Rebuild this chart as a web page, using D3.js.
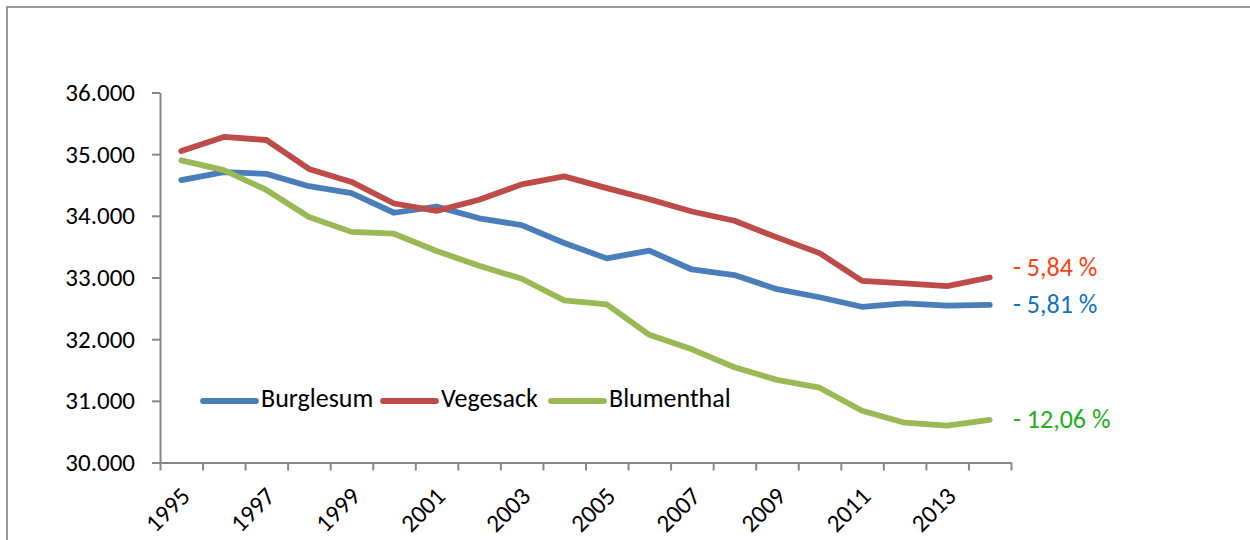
<!DOCTYPE html>
<html>
<head>
<meta charset="utf-8">
<script src="https://cdn.jsdelivr.net/npm/d3@7"></script>
<style>
  body { margin: 0; background: #fff; }
  svg text { font-family: Carlito, Calibri, Lato, sans-serif; }
</style>
</head>
<body>
<div id="container"></div>
<script>
// years and values
const years = d3.range(1995, 2015);
const burglesum = [34580, 34710, 34680, 34480, 34370, 34050, 34150, 33960, 33850, 33560,
                   33310, 33435, 33130, 33040, 32810, 32680, 32525, 32580, 32545, 32555];
const vegesack = [35050, 35280, 35230, 34760, 34550, 34200, 34080, 34260, 34510, 34640,
                  34450, 34270, 34070, 33920, 33650, 33395, 32945, 32905, 32860, 33000];
const blumenthal = [34900, 34740, 34420, 33980, 33740, 33710, 33430, 33190, 32980, 32630,
                    32565, 32070, 31835, 31545, 31340, 31213, 30840, 30645, 30597, 30690];
const yTicks = [30000, 31000, 32000, 33000, 34000, 35000, 36000];
const xLabels = years.filter(y => y % 2 === 1);
const seriesNames = ["Burglesum", "Vegesack", "Blumenthal"];
const changeLabels = ["- 5,81 %", "- 5,84 %", "- 12,06 %"];

const series = [
  { name: seriesNames[0], values: burglesum, color: "#4a7ebb", labelColor: "#0f72c2", label: changeLabels[0], shift: 2 },
  { name: seriesNames[1], values: vegesack, color: "#be4b48", labelColor: "#ff3f10", label: changeLabels[1], shift: -8 },
  { name: seriesNames[2], values: blumenthal, color: "#98b954", labelColor: "#22b022", label: changeLabels[2], shift: 2 }
];

const w = 1250, h = 540;
const plotLeft = 160, plotRight = 1011, plotTop = 92.5, plotBottom = 462.5;
const fontSize = 25;

const svg = d3.select("#container").append("svg")
  .attr("width", w).attr("height", h);

// outer frame
svg.append("rect")
  .attr("x", 7).attr("y", 7)
  .attr("width", 1400).attr("height", 700)
  .attr("fill", "none")
  .attr("stroke", "#9a9a9a")
  .attr("stroke-width", 2);

// scales: category index, points at centers
const x = d3.scaleLinear().domain([0, years.length]).range([plotLeft, plotRight]);
const y = d3.scaleLinear().domain([30000, 36000]).range([plotBottom, plotTop]);

const de = d3.formatLocale({ decimal: ",", thousands: ".", grouping: [3], currency: ["", " €"] });
const fmt = de.format(",.0f");

// y axis
const yAxis = svg.append("g")
  .attr("transform", "translate(" + plotLeft + ",0)")
  .call(d3.axisLeft(y).tickValues(yTicks).tickFormat(fmt).tickSize(8).tickSizeOuter(0).tickPadding(17));
yAxis.selectAll("path, line").attr("stroke", "#868686").attr("stroke-width", 2);
yAxis.selectAll("text").attr("font-size", fontSize).attr("fill", "#000")
  .attr("font-family", "Carlito, Calibri, Lato, sans-serif");

// x axis (ticks at category borders)
const xAxis = svg.append("g")
  .attr("transform", "translate(0," + plotBottom + ")")
  .call(d3.axisBottom(x).tickValues(d3.range(0, years.length + 1)).tickFormat("").tickSize(8).tickSizeOuter(0));
xAxis.selectAll("path, line").attr("stroke", "#868686").attr("stroke-width", 2);

// rotated year labels
svg.selectAll(".xlab")
  .data(xLabels)
  .enter()
  .append("text")
  .attr("class", "xlab")
  .attr("transform", d => "translate(" + (x(years.indexOf(d) + 0.5) + 4) + "," + (plotBottom + 29) + ")rotate(-45)")
  .attr("text-anchor", "end")
  .attr("dy", "0.35em")
  .attr("font-size", fontSize)
  .text(d => d);

// lines
const line = d3.line()
  .x((d, i) => x(i + 0.5))
  .y(d => y(d));

svg.selectAll(".series")
  .data(series)
  .enter()
  .append("path")
  .attr("class", "series")
  .attr("d", d => line(d.values))
  .attr("fill", "none")
  .attr("stroke", d => d.color)
  .attr("stroke-width", 5.8)
  .attr("stroke-linecap", "round")
  .attr("stroke-linejoin", "round");

// change labels at the right
svg.selectAll(".chg")
  .data(series)
  .enter()
  .append("text")
  .attr("class", "chg")
  .attr("x", 1013)
  .attr("y", d => y(d.values[d.values.length - 1]) + d.shift)
  .attr("dominant-baseline", "middle")
  .attr("font-size", fontSize + 1)
  .attr("fill", d => d.labelColor)
  .text(d => d.label);

// legend
const legendX = [203, 383, 551];
const legend = svg.selectAll(".leg")
  .data(series)
  .enter()
  .append("g")
  .attr("class", "leg")
  .attr("transform", (d, i) => "translate(" + legendX[i] + ",401)");
legend.append("line")
  .attr("x1", 0).attr("x2", 53)
  .attr("stroke", d => d.color)
  .attr("stroke-width", 5.8)
  .attr("stroke-linecap", "round");
legend.append("text")
  .attr("x", 58)
  .attr("dominant-baseline", "middle")
  .attr("font-size", fontSize + 1)
  .text(d => d.name);
</script>
</body>
</html>
